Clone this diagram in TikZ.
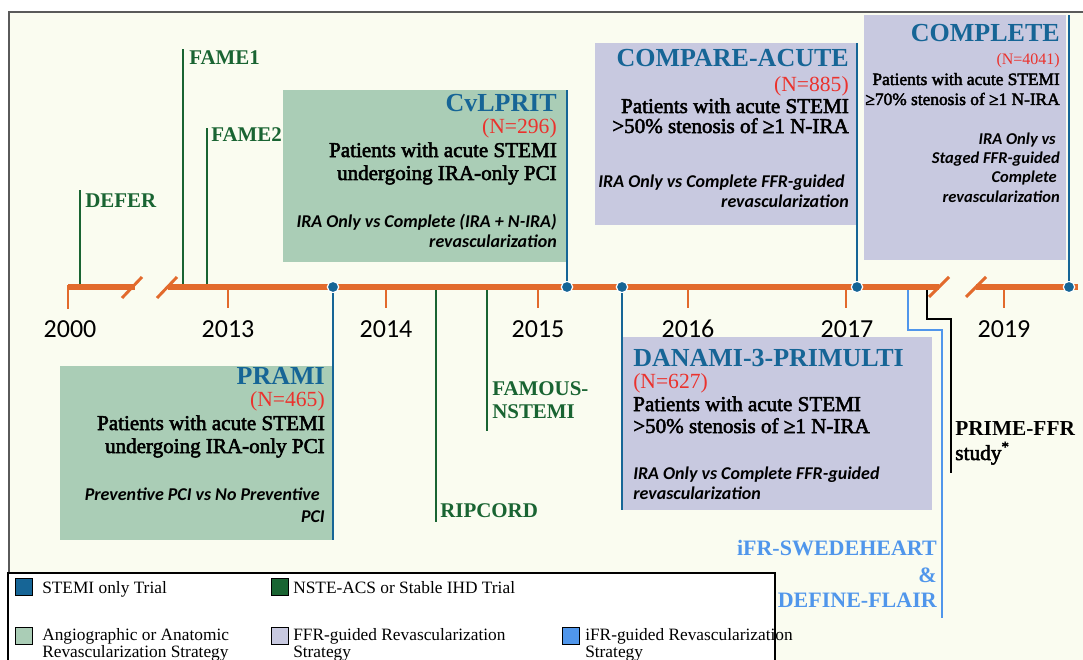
\documentclass[tikz,border=0pt]{standalone}
\usepackage{fontspec}
\setmainfont{Liberation Serif}
\newfontfamily\medserif[FakeBold=2.5]{Liberation Serif}
\newfontfamily\calib{Carlito}
\newcommand{\fsz}[1]{\fontsize{#1}{#1}\selectfont}
\definecolor{bg}{RGB}{250,252,240}
\definecolor{tl}{RGB}{226,106,44}
\definecolor{stemi}{RGB}{22,101,150}
\definecolor{nste}{RGB}{25,100,50}
\definecolor{angio}{RGB}{170,205,182}
\definecolor{ffr}{RGB}{200,201,224}
\definecolor{ifr}{RGB}{80,150,235}
\definecolor{nred}{RGB}{235,50,45}
\definecolor{framec}{RGB}{90,90,90}
\begin{document}
\begin{tikzpicture}[x=0.75pt,y=-0.75pt,
  ttl/.style={inner sep=0, text=stemi, font=\fsz{19.5}\bfseries},
  nn/.style={inner sep=0, text=nred, font=\fsz{16.2}},
  pat/.style={inner sep=0, font=\medserif\fsz{15.8}},
  itl/.style={inner sep=0, font=\calib\fsz{13.5}\bfseries\itshape},
  grn/.style={inner sep=0, text=nste, font=\fsz{15.7}\bfseries},
  yr/.style={inner sep=0, font=\calib\fsz{19.5}},
  leg/.style={inner sep=0, font=\fsz{13}},
  legsq/.style={draw=black, line width=1.1pt, minimum width=12.5pt, minimum height=12.5pt, inner sep=0},
  tline/.style={draw=tl, line width=4.5pt},
  tslash/.style={draw=tl, line width=2.2pt},
  tick/.style={draw=tl, line width=2.2pt},
  gline/.style={draw=nste, line width=1.9pt},
  bline/.style={draw=stemi, line width=1.9pt},
  dot/.style={circle, fill=stemi, draw=white, line width=0.9pt, minimum size=8.5pt, inner sep=0}
]
\useasboundingbox (0,0) rectangle (1083,660);
\fill[white] (0,0) rectangle (1083,660);
\fill[bg] (9,12) rectangle (1083,660);
\draw[framec, line width=1.2pt] (9,660) -- (9,12) -- (1083,12);

% boxes
\fill[angio] (283,90) rectangle (566,262);
\fill[angio] (60,366) rectangle (332,540);
\fill[ffr] (595,43) rectangle (856,225);
\fill[ffr] (864,15) rectangle (1066,260);
\fill[ffr] (623,337) rectangle (932,510);

% coordinates
\coordinate (tDEFER) at (80,287);
\coordinate (tFAMEa) at (183,287);
\coordinate (tFAMEb) at (207,287);
\coordinate (tRIP) at (436,287);
\coordinate (tFAM) at (487,287);
\coordinate (eDEFER) at (80,190);
\coordinate (eFAMEa) at (183,49);
\coordinate (eFAMEb) at (207,128);
\coordinate (eRIP) at (436,522);
\coordinate (eFAM) at (487,431);
\coordinate (ePRAMI) at (333,540);
\coordinate (eCV) at (567,90);
\coordinate (eDAN) at (622,510);
\coordinate (eCOMP) at (857,43);
\coordinate (eCPL) at (1069,15);
\coordinate (tIFR) at (908,288);
\coordinate (eIFR) at (942,618);
\coordinate (tPRIME) at (927,288);
\coordinate (ePRIME) at (951,473);

% green trial lines
\draw[gline] (tDEFER) -- (eDEFER);
\draw[gline] (tFAMEa) -- (eFAMEa);
\draw[gline] (tFAMEb) -- (eFAMEb);
\draw[gline] (tRIP) -- (eRIP);
\draw[gline] (tFAM) -- (eFAM);

% iFR and PRIME lines
\draw[draw=ifr, line width=1.9pt] (tIFR) |- (925,330) -| (eIFR);
\draw[draw=black, line width=1.9pt] (tPRIME) |- (940,319) -| (ePRIME);

% timeline
\coordinate (t0) at (68,287);
\coordinate (b1) at (135,287);
\coordinate (b2) at (168,287);
\coordinate (b3) at (939,287);
\coordinate (b4) at (976,287);
\coordinate (tend) at (1078,287);
\draw[tline] (t0) -- (b1);
\draw[tline] (b2) -- (b3);
\draw[tline] (b4) -- (tend);
\draw[tslash] (122,298) -- (142,277);
\draw[tslash] (157,298) -- (177,277);
\draw[tslash] (929,297) -- (949,277);
\draw[tslash] (966,297) -- (986,277);
\draw[tick] (68,285) -- (68,309);
\foreach \x in {228,386,538,688,846,1004} \draw[tick] (\x,287) -- (\x,308);

% years
\node[yr, anchor=base] (y2000) at (70,337) {2000};
\node[yr, anchor=base] (y2013) at (228,337) {2013};
\node[yr, anchor=base] (y2014) at (386,337) {2014};
\node[yr, anchor=base] (y2015) at (538,337) {2015};
\node[yr, anchor=base] (y2016) at (688,337) {2016};
\node[yr, anchor=base] (y2017) at (847,337) {2017};
\node[yr, anchor=base] (y2019) at (1004,337) {2019};

% dots and blue lines
\node[dot] (dPRAMI) at (333,287) {};
\node[dot] (dCV) at (567,287) {};
\node[dot] (dDAN) at (622,287) {};
\node[dot] (dCOMP) at (857,287) {};
\node[dot] (dCPL) at (1069,287) {};
\draw[bline] (dPRAMI) -- (ePRAMI);
\draw[bline] (dCV) -- (eCV);
\draw[bline] (dDAN) -- (eDAN);
\draw[bline] (dCOMP) -- (eCOMP);
\draw[bline] (dCPL) -- (eCPL);

% green labels
\node[grn, anchor=base west] (lDEFER) at (85,208) {DEFER};
\node[grn, anchor=base west] (lFAMEa) at (189,65) {FAME1};
\node[grn, anchor=base west] (lFAMEb) at (211,142) {FAME2};
\node[grn, anchor=base west] (lRIP) at (440,517) {RIPCORD};
\node[grn, anchor=base west] (lFAMa) at (492,395) {FAMOUS-};
\node[grn, anchor=base west] (lFAMb) at (492,418) {NSTEMI};

% CvLPRIT
\node[ttl, anchor=base east] (cv1) at (557,112) {CvLPRIT};
\node[nn, anchor=base east] (cv2) at (557,134) {(N=296)};
\node[pat, anchor=base east] (cv3) at (557,157) {Patients with acute STEMI};
\node[pat, anchor=base east] (cv4) at (557,180) {undergoing IRA-only PCI};
\node[itl, anchor=base east] (cv5) at (557,227) {IRA Only vs Complete (IRA + N-IRA)};
\node[itl, anchor=base east] (cv6) at (557,247) {revascularization};

% PRAMI
\node[ttl, anchor=base east] (pr1) at (325,384) {PRAMI};
\node[nn, anchor=base east] (pr2) at (325,406) {(N=465)};
\node[pat, anchor=base east] (pr3) at (325,430) {Patients with acute STEMI};
\node[pat, anchor=base east] (pr4) at (325,453) {undergoing IRA-only PCI};
\node[itl, anchor=base east] (pr5) at (320,500) {Preventive PCI vs No Preventive};
\node[itl, anchor=base east] (pr6) at (325,522) {PCI};

% COMPARE-ACUTE
\node[ttl, anchor=base east] (ca1) at (849,67) {COMPARE-ACUTE};
\node[nn, anchor=base east] (ca2) at (849,92) {(N=885)};
\node[pat, anchor=base east] (ca3) at (849,113) {Patients with acute STEMI};
\node[pat, anchor=base east] (ca4) at (849,133) {>50\% stenosis of ≥1 N-IRA};
\node[itl, anchor=base east] (ca5) at (845,187) {IRA Only vs Complete FFR-guided};
\node[itl, anchor=base east] (ca6) at (849,207) {revascularization};

% COMPLETE
\node[ttl, anchor=base east] (cp1) at (1060,42) {COMPLETE};
\node[inner sep=0, text=nred, font=\fsz{12}, anchor=base east] (cp2) at (1060,65) {(N=4041)};
\node[inner sep=0, font=\medserif\fsz{13}, anchor=base east] (cp3) at (1060,85) {Patients with acute STEMI};
\node[inner sep=0, font=\medserif\fsz{13}, anchor=base east] (cp4) at (1060,105) {≥70\% stenosis of ≥1 N-IRA};
\node[inner sep=0, font=\calib\fsz{12.4}\bfseries\itshape, anchor=base east] (cp5) at (1056,145) {IRA Only vs};
\node[inner sep=0, font=\calib\fsz{12.4}\bfseries\itshape, anchor=base east] (cp6) at (1060,164) {Staged FFR-guided};
\node[inner sep=0, font=\calib\fsz{12.4}\bfseries\itshape, anchor=base east] (cp7) at (1057,183) {Complete};
\node[inner sep=0, font=\calib\fsz{12.4}\bfseries\itshape, anchor=base east] (cp8) at (1060,202) {revascularization};

% DANAMI-3-PRIMULTI
\node[ttl, anchor=base west] (dn1) at (633,366) {DANAMI-3-PRIMULTI};
\node[nn, anchor=base west] (dn2) at (633,388) {(N=627)};
\node[pat, anchor=base west] (dn3) at (633,411) {Patients with acute STEMI};
\node[pat, anchor=base west] (dn4) at (633,433) {>50\% stenosis of ≥1 N-IRA};
\node[itl, anchor=base west] (dn5) at (633,479) {IRA Only vs Complete FFR-guided};
\node[itl, anchor=base west] (dn6) at (633,499) {revascularization};

% iFR trials
\node[inner sep=0, text=ifr, font=\fsz{16.5}\bfseries, anchor=base east] (if1) at (937,555) {iFR-SWEDEHEART};
\node[inner sep=0, text=ifr, font=\fsz{16.5}\bfseries, anchor=base east] (if2) at (937,582) {\&};
\node[inner sep=0, text=ifr, font=\fsz{16.5}\bfseries, anchor=base east] (if3) at (937,607) {DEFINE-FLAIR};

% PRIME-FFR
\node[inner sep=0, font=\fsz{16}\bfseries, anchor=base west] (pf1) at (955,435) {PRIME-FFR};
\node[inner sep=0, font=\medserif\fsz{16}, anchor=base west] (pf2) at (955,460) {study\textsuperscript{*}};

% legend
\draw[black, line width=0.9pt, fill=white] (8,573) rectangle (775,670);
\node[legsq, fill=stemi, anchor=north west] (sq1) at (15,578) {};
\node[leg, anchor=base west] (lg1) at (42,593) {STEMI only Trial};
\node[legsq, fill=nste, anchor=north west] (sq2) at (271,578) {};
\node[leg, anchor=base west] (lg2) at (293,593) {NSTE-ACS or Stable IHD Trial};
\node[legsq, fill=angio, anchor=north west] (sq3) at (15,627) {};
\node[leg, anchor=base west] (lg3a) at (42,640) {Angiographic or Anatomic};
\node[leg, anchor=base west] (lg3b) at (42,657) {Revascularization Strategy};
\node[legsq, fill=ffr, anchor=north west] (sq4) at (271,627) {};
\node[leg, anchor=base west] (lg4a) at (293,640) {FFR-guided Revascularization};
\node[leg, anchor=base west] (lg4b) at (293,657) {Strategy};
\node[legsq, fill=ifr, anchor=north west] (sq5) at (562,627) {};
\node[leg, anchor=base west] (lg5a) at (585,640) {iFR-guided Revascularization};
\node[leg, anchor=base west] (lg5b) at (585,657) {Strategy};
\end{tikzpicture}
\end{document}
